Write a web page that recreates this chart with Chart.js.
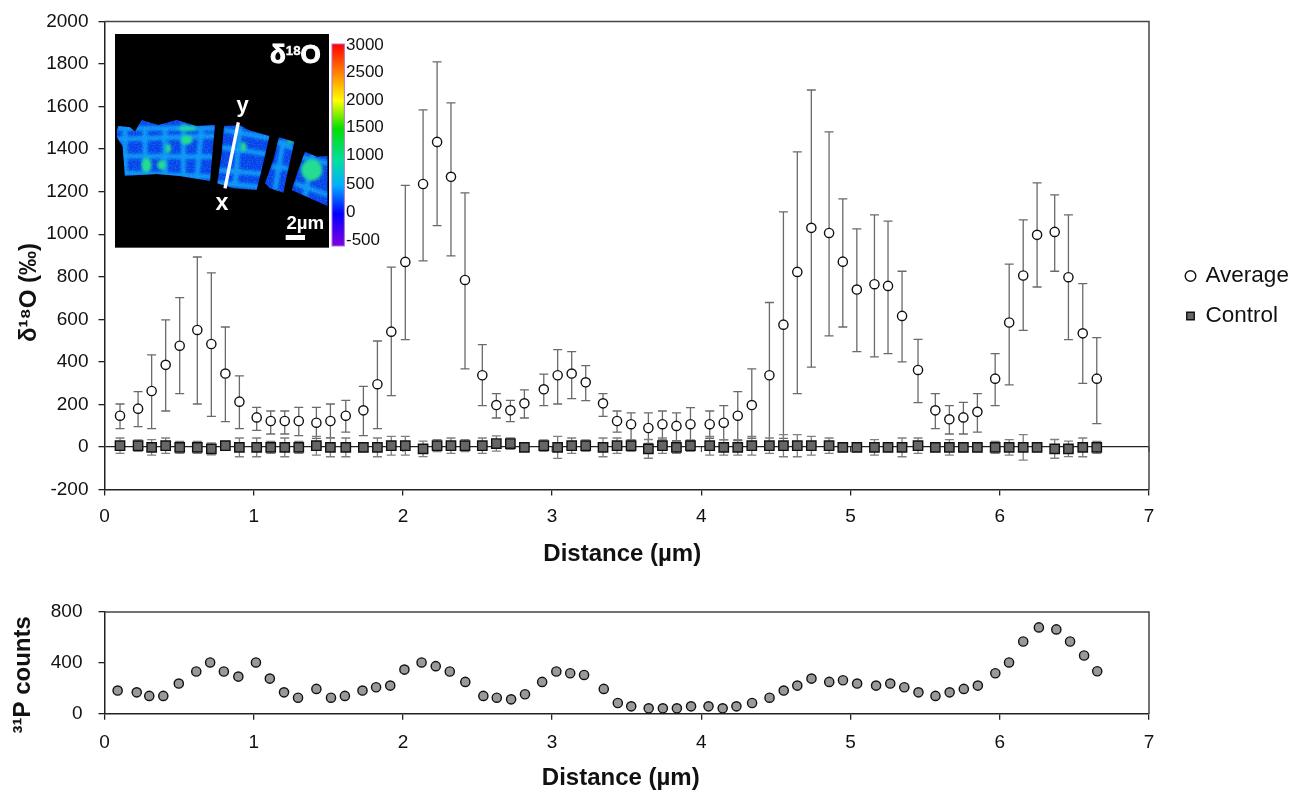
<!DOCTYPE html>
<html><head><meta charset="utf-8">
<style>
html,body{margin:0;padding:0;background:#fff;width:1290px;height:790px;overflow:hidden}
canvas{position:absolute;left:0}
#inset{position:absolute;left:100px;top:20px}
</style>
<script src="https://cdn.jsdelivr.net/npm/chart.js@4"></script>
</head><body>
<canvas id="top" width="1290" height="590" style="top:0"></canvas>
<canvas id="bottom" width="1290" height="200" style="top:590px"></canvas>
<svg id="inset" width="300" height="240" viewBox="0 0 900 720" font-family="Liberation Sans, Arial, sans-serif">
  <defs>
    <linearGradient id="cb" x1="0" y1="0" x2="0" y2="1">
      <stop offset="0" stop-color="#ff0000"/><stop offset=".14" stop-color="#ff8000"/>
      <stop offset=".28" stop-color="#ffff00"/><stop offset=".42" stop-color="#00e000"/>
      <stop offset=".58" stop-color="#00e0a0"/><stop offset=".70" stop-color="#00b0ff"/>
      <stop offset=".84" stop-color="#0000ff"/><stop offset="1" stop-color="#8000e0"/>
    </linearGradient>
    <clipPath id="frag">
      <polygon points="50,335 55,318 90,322 105,335 125,300 175,315 230,300 290,318 345,315 340,370 330,483 240,468 170,462 75,467 68,380 50,350"/>
      <polygon points="372,318 420,316 445,330 508,348 492,420 470,510 400,505 352,490 365,400"/>
      <polygon points="537,352 583,365 560,470 550,518 510,505 495,490 520,420"/>
      <polygon points="615,395 650,410 683,408 683,558 630,535 575,510 595,450"/>
    </clipPath>
    <filter id="soft" x="-10%" y="-10%" width="120%" height="120%"><feGaussianBlur stdDeviation="4"/></filter>
    <filter id="speckle" x="0" y="0" width="100%" height="100%">
      <feTurbulence type="fractalNoise" baseFrequency="0.25" numOctaves="2" seed="4"/>
      <feColorMatrix values="0 0 0 0 0.05  0 0 0 0 0.55  0 0 0 0 0.95  0 0 0 3 -1.3"/>
    </filter>
  </defs>
  <rect x="45" y="42" width="642" height="641" fill="#000"/>
  <g clip-path="url(#frag)">
    <rect x="40" y="290" width="650" height="280" fill="#0640ea"/>
    <g filter="url(#soft)" fill="none" stroke="#0e9cf4" stroke-width="15" opacity=".95">
      <path d="M50 325 L345 325 M50 358 L345 348 M60 408 L340 410 M60 458 L335 470 M372 330 L510 355 M365 382 L500 402 M355 450 L490 462 M350 488 L475 500 M530 365 L580 385 M515 440 L565 445 M600 410 L683 430 M585 490 L683 525"/>
      <path d="M75 330 L75 465 M135 330 L135 460 M195 320 L195 460 M250 310 L250 470 M305 320 L290 480 M420 320 L405 500 M550 360 L525 510 M640 400 L615 530"/>
    </g>
    <g filter="url(#soft)" fill="#22e08a">
      <ellipse cx="140" cy="435" rx="15" ry="22"/><ellipse cx="185" cy="435" rx="13" ry="15"/>
      <ellipse cx="260" cy="360" rx="18" ry="14"/><ellipse cx="262" cy="325" rx="28" ry="7"/>
      <ellipse cx="205" cy="385" rx="8" ry="14"/><ellipse cx="635" cy="450" rx="32" ry="32"/>
      <ellipse cx="570" cy="366" rx="12" ry="5"/><ellipse cx="430" cy="380" rx="9" ry="14"/>
    </g>
    <rect x="40" y="290" width="650" height="280" filter="url(#speckle)" opacity=".3"/>
  </g>
  <line x1="415" y1="307" x2="375" y2="505" stroke="#fff" stroke-width="10"/>
  <rect x="557" y="645" width="58" height="15" fill="#fff"/>
  <text x="510" y="130" font-size="78" font-weight="bold" stroke="#fff" stroke-width="3" fill="#fff">δ<tspan font-size="40" stroke-width="1" dy="-26">18</tspan><tspan dy="26">O</tspan></text>
  <text x="428" y="275" font-size="66" font-weight="bold" fill="#fff" text-anchor="middle">y</text>
  <text x="366" y="570" font-size="70" font-weight="bold" fill="#fff" text-anchor="middle">x</text>
  <text x="616" y="628" font-size="56" font-weight="bold" fill="#fff" text-anchor="middle">2µm</text>
  <rect x="696" y="72" width="37" height="606" fill="url(#cb)" stroke="#b070d0" stroke-width="3"/>
  <g font-size="51" fill="#111">
    <text x="738" y="90">3000</text><text x="738" y="172">2500</text><text x="738" y="255">2000</text>
    <text x="738" y="337">1500</text><text x="738" y="420">1000</text><text x="738" y="507">500</text>
    <text x="738" y="590">0</text><text x="738" y="674">-500</text>
  </g>
</svg>
<script>
const distance = [0.104,0.225,0.316,0.41,0.504,0.622,0.716,0.81,0.904,1.02,1.114,1.208,1.302,1.42,1.514,1.617,1.735,1.829,1.922,2.016,2.135,2.229,2.322,2.416,2.532,2.626,2.72,2.814,2.944,3.037,3.131,3.225,3.341,3.435,3.529,3.645,3.739,3.833,3.927,4.056,4.15,4.244,4.338,4.456,4.55,4.643,4.737,4.856,4.948,5.042,5.16,5.251,5.345,5.452,5.568,5.662,5.756,5.85,5.969,6.063,6.157,6.25,6.368,6.46,6.556,6.65];
const average = [147,180,263,386,476,550,484,345,213,139,122,122,122,114,122,147,172,295,542,870,1236,1434,1270,785,337,197,172,205,271,337,345,304,205,122,107,89,107,99,107,107,114,147,197,337,575,823,1030,1006,871,740,765,757,616,362,172,130,139,165,321,585,806,997,1011,798,534,321];
const averageUpper = [202,260,433,597,702,893,818,564,334,186,169,169,186,186,202,219,285,498,845,1230,1585,1810,1617,1194,481,251,219,268,342,458,448,382,251,169,160,160,169,160,185,169,194,260,367,679,1105,1387,1678,1481,1166,1025,1091,1062,826,506,251,194,210,251,439,859,1067,1241,1185,1091,768,514];
const averageLower = [86,96,86,169,251,202,144,119,86,78,61,61,53,40,44,70,53,86,241,505,875,1040,898,367,194,136,119,136,194,202,227,218,144,70,33,17,33,30,30,41,33,30,41,2,40,251,375,522,564,448,423,439,400,208,86,61,61,70,194,292,548,752,826,505,299,110];
const control = [6,6,-2,6,-2,-2,-9,6,-2,-2,-2,-2,-2,6,-2,-2,-2,-2,6,6,-9,6,6,6,6,16,16,-2,6,-2,6,6,-2,6,6,-9,6,-2,6,6,-2,-2,6,6,6,6,6,6,-2,-2,-2,-2,-2,6,-2,-2,-2,-2,-2,-2,-2,-2,-9,-9,-2,-2];
const controlError = [36,27,36,36,28,28,28,20,44,44,28,44,28,44,44,44,20,44,44,44,36,28,36,28,36,36,27,17,27,52,36,27,44,36,27,44,36,28,27,44,36,36,44,36,52,52,44,36,20,20,36,20,44,36,20,36,20,20,28,36,60,20,44,36,44,28];
const phosphorusDistance = [0.088,0.216,0.30,0.394,0.498,0.615,0.708,0.80,0.897,1.015,1.108,1.203,1.297,1.42,1.518,1.611,1.729,1.82,1.915,2.01,2.125,2.22,2.314,2.418,2.539,2.629,2.725,2.818,2.933,3.028,3.121,3.214,3.346,3.44,3.53,3.647,3.742,3.836,3.931,4.048,4.143,4.235,4.34,4.457,4.552,4.643,4.738,4.857,4.949,5.044,5.171,5.266,5.36,5.455,5.569,5.664,5.759,5.853,5.97,6.062,6.157,6.262,6.379,6.471,6.565,6.653];
const phosphorusCounts = [182,168,140,140,237,332,403,332,292,403,276,168,126,195,126,140,182,208,221,347,403,374,332,250,140,126,113,153,250,332,318,305,195,84,58,42,42,42,58,58,42,58,84,126,182,221,276,250,263,237,221,237,208,168,140,168,195,221,318,403,568,679,663,568,458,334];

const FONT = 'Liberation Sans, Arial, sans-serif';
Chart.defaults.font.family = FONT;
Chart.defaults.color = '#111';
Chart.defaults.animation = false;

const pts = (xs, ys) => xs.map((x, i) => ({x, y: ys[i]}));

function frame(yTitleText, yMin, yMax, yStep, xHeight, yTitlePad, xTitlePad, tickPad, zeroLine) {
  return {
    x: {type:'linear', min:0, max:7,
      afterFit(s){ s.height = xHeight; },
      afterBuildTicks(s){ s.ticks = s.ticks.filter(t => Number.isInteger(t.value)); },
      ticks:{stepSize:1, font:{size:19}, padding:tickPad, maxRotation:0},
      grid:{drawOnChartArea:false, tickLength:6, tickColor:'#222', lineWidth:1.3},
      border:{color:'#222', width:1.5},
      title:{display:true, text:'Distance (µm)', font:{size:24, weight:'bold'}, color:'#111', padding:{top:xTitlePad,bottom:xTitlePad}}
    },
    y: {type:'linear', min:yMin, max:yMax,
      afterFit(s){ s.width = 104.5; },
      ticks:{stepSize:yStep, font:{size:19}, padding:10, callback:v => String(v)},
      grid:{lineWidth:1.3, tickLength:6, tickColor:'#222',
        color:c => (zeroLine && c.tick.value === 0) ? '#222' : 'rgba(0,0,0,0)'},
      border:{color:'#222', width:1.5},
      title:{display:true, text:yTitleText, font:{size:24, weight:'bold'}, color:'#111', padding:{top:yTitlePad,bottom:yTitlePad}}
    }
  };
}

const plotFrame = {
  id:'plotFrame',
  afterDraw(chart){
    const a = chart.chartArea, g = chart.ctx;
    g.save(); g.strokeStyle = '#444'; g.lineWidth = 1.5;
    g.beginPath(); g.moveTo(a.left,a.top); g.lineTo(a.right,a.top); g.lineTo(a.right,a.bottom); g.stroke();
    g.restore();
  }
};

// nudges axis titles and tick labels away from their computed positions
const titleShift = {
  id:'titleShift',
  beforeDraw(chart, args, opts){
    const wrap = (scale, method, o) => {
      const orig = scale[method].bind(scale);
      scale[method] = function(a){
        const g = chart.ctx; g.save(); g.translate(o[0], o[1]); orig(a); g.restore();
      };
    };
    if (chart._shiftsApplied) return;
    Object.keys(opts.offsets || {}).forEach(id => wrap(chart.scales[id], 'drawTitle', opts.offsets[id]));
    Object.keys(opts.labelOffsets || {}).forEach(id => wrap(chart.scales[id], 'drawLabels', opts.labelOffsets[id]));
    chart._shiftsApplied = true;
  }
};

const errorBars = {
  id:'errorBars',
  beforeDatasetsDraw(chart){
    const g = chart.ctx, X = chart.scales.x, Y = chart.scales.y;
    const draw = (xs, hi, lo, color) => {
      g.strokeStyle = color; g.lineWidth = 1.3;
      xs.forEach((v,i) => {
        const x = X.getPixelForValue(v), t = Y.getPixelForValue(hi[i]), b = Y.getPixelForValue(lo[i]);
        g.beginPath();
        g.moveTo(x,t); g.lineTo(x,b);
        g.moveTo(x-4.5,t); g.lineTo(x+4.5,t);
        g.moveTo(x-4.5,b); g.lineTo(x+4.5,b);
        g.stroke();
      });
    };
    g.save();
    draw(distance, averageUpper, averageLower, '#6a6a6a');
    draw(distance, control.map((v,i)=>v+controlError[i]), control.map((v,i)=>v-controlError[i]), '#808080');
    const z = Y.getPixelForValue(0);
    g.strokeStyle = '#222'; g.lineWidth = 1;
    X.ticks.forEach(t => { const x = X.getPixelForValue(t.value); g.beginPath(); g.moveTo(x,z); g.lineTo(x,z+5); g.stroke(); });
    g.restore();
  }
};

const legendPlacement = {
  id:'legendPlacement',
  beforeLayout(chart){
    const l = chart.legend;
    if (l && !l._wrapped) {
      const fit = l.fit.bind(l);
      l.fit = function(){ fit(); this.width = 141; };
      l._wrapped = true;
    }
  },
  afterLayout(chart){
    const l = chart.legend;
    l.left = 1169.25; l.right = 1290; l.top = 247.25;
  }
};

new Chart(document.getElementById('top'), {
  type:'scatter',
  data:{datasets:[
    {label:'Average', data:pts(distance,average), pointStyle:'circle', pointRadius:4.6, pointBorderWidth:1.4,
     pointBackgroundColor:'#fff', pointBorderColor:'#111', backgroundColor:'#fff', borderColor:'#111', borderWidth:1.3, order:1},
    {label:'Control', data:pts(distance,control), pointStyle:'rect', pointRadius:6.6, pointBorderWidth:1.4,
     pointBackgroundColor:'#666', pointBorderColor:'#111', backgroundColor:'#666', borderColor:'#111', borderWidth:1.3, order:2}
  ]},
  options:{responsive:false, devicePixelRatio:1,
    layout:{padding:{top:21.5,left:0,right:0,bottom:0}},
    plugins:{tooltip:{enabled:false},
      titleShift:{offsets:{x:[-4.5,1], y:[0,37]}},
      legend:{display:true, position:'right', align:'start',
        labels:{usePointStyle:true, boxWidth:7.5, boxHeight:7.5, padding:17.5, color:'#111', font:{size:22.5}}}},
    scales:frame('δ¹⁸O (‰)', -200, 2000, 200, 100.5, 14.6, 22.6, 10, true)
  },
  plugins:[legendPlacement, errorBars, plotFrame, titleShift]
});

new Chart(document.getElementById('bottom'), {
  type:'scatter',
  data:{datasets:[
    {label:'³¹P counts', data:pts(phosphorusDistance,phosphorusCounts), pointStyle:'circle', pointRadius:4.6, pointBorderWidth:1.4,
     pointBackgroundColor:'#999', pointBorderColor:'#111'}
  ]},
  options:{responsive:false, devicePixelRatio:1,
    layout:{padding:{top:22,left:0,right:141,bottom:0}},
    plugins:{tooltip:{enabled:false}, legend:{display:false},
      titleShift:{offsets:{x:[-6,2.4], y:[0,12]}, labelOffsets:{y:[-6,0]}}},
    scales:frame('³¹P counts', 0, 800, 400, 76.3, 8.6, 0, 12, false)
  },
  plugins:[plotFrame, titleShift]
});
</script>
</body></html>
